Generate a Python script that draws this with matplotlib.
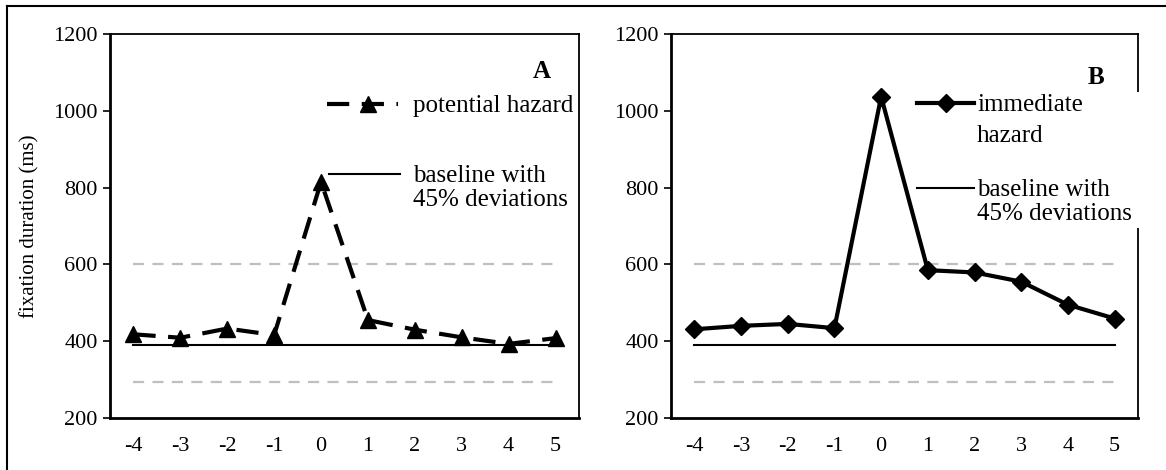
import matplotlib
matplotlib.use("Agg")
import matplotlib.pyplot as plt
from matplotlib.lines import Line2D
from matplotlib.patches import Rectangle

plt.rcParams['font.family'] = ['Liberation Serif', 'DejaVu Serif']
plt.rcParams['lines.scale_dashes'] = False

# data
offsets = [-4, -3, -2, -1, 0, 1, 2, 3, 4, 5]
potential = [418, 409, 433, 416, 815, 455, 430, 410, 393, 408]
immediate = [431, 440, 445, 434, 1037, 585, 579, 555, 495, 459]
baseline = 390
dev_hi = 600
dev_lo = 295

W, H = 1166, 470
fig = plt.figure(figsize=(W / 100, H / 100), dpi=100)

def px_axes(x0, x1, y0, y1):
    return fig.add_axes([x0 / W, (H - y1) / H, (x1 - x0) / W, (y1 - y0) / H])

axA = px_axes(110, 579, 34, 418)
axB = px_axes(671, 1138, 34, 418)

xs = list(range(len(offsets)))

for ax in (axA, axB):
    ax.plot([xs[0], xs[-1]], [dev_hi, dev_hi], color='#bfbfbf', lw=1.6, dashes=(8, 6))
    ax.plot([xs[0], xs[-1]], [dev_lo, dev_lo], color='#bfbfbf', lw=1.6, dashes=(8, 6))
    ax.plot([xs[0], xs[-1]], [baseline, baseline], color='black', lw=1.5)
    ax.set_xlim(-0.5, len(offsets) - 0.5)
    ax.set_ylim(200, 1200)
    ax.set_yticks([200, 400, 600, 800, 1000, 1200])
    ax.set_xticks(xs)
    ax.set_xticklabels([str(o) for o in offsets])
    ax.tick_params(axis='y', direction='out', length=5, width=1.2, labelsize=16, pad=4)
    ax.tick_params(axis='x', length=0, labelsize=16, pad=14)
    for s in ax.spines.values():
        s.set_linewidth(1.3)
    ax.spines['left'].set_linewidth(2)
    ax.spines['bottom'].set_linewidth(2)

axA.plot(xs, potential, color='black', lw=3, dashes=(16, 9),
         marker='^', markersize=11, zorder=5)
axB.plot(xs, immediate, color='black', lw=3, marker='D', markersize=9, zorder=5)

axA.set_ylabel('fixation duration (ms)', fontsize=15, labelpad=10)

# hand-drawn legends (pixel positions)
def fx(x):
    return x / W

def fy(y):
    return (H - y) / H

def label(x, y, s, **kw):
    fig.text(fx(x), fy(y), s, fontsize=18, va='center', ha='left', zorder=5, **kw)

# legend box of B hides the right frame edge
fig.add_artist(Rectangle((fx(1120), fy(228)), fx(1166 - 1120), (228 - 92) / H,
                         transform=fig.transFigure, facecolor='white', edgecolor='none', zorder=3))

fig.add_artist(Line2D([fx(327), fx(398)], [fy(104), fy(104)], color='black', lw=3,
                      dashes=(16, 9), transform=fig.transFigure, zorder=4))
fig.add_artist(Line2D([fx(368)], [fy(104)], color='black', marker='^', markersize=11,
                      transform=fig.transFigure, zorder=4))
label(413, 106, 'potential hazard')
fig.add_artist(Line2D([fx(329), fx(400)], [fy(174), fy(174)], color='black', lw=1.5,
                      transform=fig.transFigure, zorder=4))
label(413, 176, 'baseline with')
label(413, 200, '45% deviations')
fig.text(fx(542), fy(72), 'A', fontsize=18, fontweight='bold', va='center', ha='center')

fig.add_artist(Line2D([fx(917), fx(974)], [fy(103), fy(103)], color='black', lw=3,
                      transform=fig.transFigure, zorder=4))
fig.add_artist(Line2D([fx(946)], [fy(103)], color='black', marker='D', markersize=9,
                      transform=fig.transFigure, zorder=4))
label(977, 105, 'immediate')
label(977, 136, 'hazard')
fig.add_artist(Line2D([fx(917), fx(974)], [fy(188), fy(188)], color='black', lw=1.5,
                      transform=fig.transFigure, zorder=4))
label(977, 190, 'baseline with')
label(977, 214, '45% deviations')
fig.text(fx(1096), fy(77), 'B', fontsize=18, fontweight='bold', va='center', ha='center')

# outer frame (top and left edges visible)
fig.add_artist(Line2D([fx(7), fx(7)], [fy(6), 0], color='black', lw=1.5, transform=fig.transFigure))
fig.add_artist(Line2D([fx(7), 1], [fy(6), fy(6)], color='black', lw=1.5, transform=fig.transFigure))

fig.savefig('out.png', dpi=100)
